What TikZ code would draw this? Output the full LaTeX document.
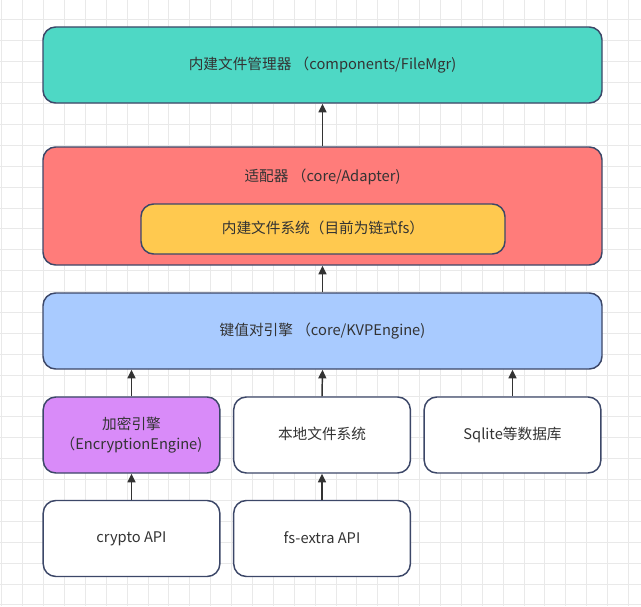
\documentclass[tikz,border=0pt]{standalone}
\usepackage{fontspec}
\setmainfont{Noto Sans CJK SC}
\usepackage{tikz}
\usetikzlibrary{arrows.meta}

\definecolor{edgeblue}{HTML}{3C4768}
\definecolor{txtgray}{HTML}{333333}
\definecolor{gridgray}{HTML}{E9E9E9}
\definecolor{mgrteal}{HTML}{4ED8C5}
\definecolor{adaptred}{HTML}{FF7C7A}
\definecolor{fsyellow}{HTML}{FFC94F}
\definecolor{kvpblue}{HTML}{A9CBFF}
\definecolor{cryptpurple}{HTML}{D98BF9}

\tikzset{
	box/.style={draw=edgeblue, line width=1.1pt, rounded corners=9.5pt, text=txtgray,
		font=\fontsize{11}{14.5}\selectfont, align=center, inner sep=0pt,
		execute at begin node={\rule[-2pt]{0pt}{9.4pt}}},
	wide/.style={box, minimum width=419.25pt, minimum height=57pt},
	small/.style={box, fill=white, minimum width=132.5pt, minimum height=57pt},
	arr/.style={draw=txtgray, line width=1.1pt, -{Triangle[length=6.5pt,width=6pt]}},
	gridline/.style={draw=gridgray, line width=0.75pt}
}

\begin{document}
\begin{tikzpicture}[x=0.75pt,y=-0.75pt]
	\useasboundingbox (0,0) rectangle (641,606);
	\fill[white] (0,0) rectangle (641,606);
	% background grid
	\foreach \i in {0,...,30}
		\draw[gridline] (1.8+\i*20.89,0) -- (1.8+\i*20.89,606);
	\foreach \j in {1,...,29}
		\draw[gridline] (0,-0.9+\j*20.89) -- (641,-0.9+\j*20.89);

	% layers
	\node[wide, fill=mgrteal] (filemgr) at (322.5,65) {内建文件管理器 （components/FileMgr)};
	\node[wide, fill=adaptred, minimum height=88.5pt] (adapter) at (322.5,206) {};
	\node[box, draw=none] (adapterlbl) at (322.5,177) {适配器 （core/Adapter)};
	\node[box, fill=fsyellow, minimum width=273pt, minimum height=37.5pt] (builtinfs) at (323,229) {内建文件系统（目前为链式fs）};
	\node[wide, fill=kvpblue] (kvp) at (322.5,331) {键值对引擎 （core/KVPEngine)};

	\node[small, fill=cryptpurple] (encrypt) at (131.5,435) {加密引擎\\（EncryptionEngine)};
	\node[small] (localfs) at (322,435) {本地文件系统};
	\node[small] (sqlite) at (512.5,435) {Sqlite等数据库};

	\node[small] (cryptoapi) at (131.5,538.5) {crypto API};
	\node[small] (fsextra) at (322,538.5) {fs-extra API};

	% connectors
	\draw[arr] (adapter.north -| filemgr.south) -- (filemgr.south);
	\draw[arr] (kvp.north) -- (adapter.south);
	\draw[arr] (localfs.north) -- (kvp.south);
	\draw[arr] (encrypt.north) -- (encrypt.north |- kvp.south);
	\draw[arr] (sqlite.north) -- (sqlite.north |- kvp.south);
	\draw[arr] (cryptoapi.north) -- (encrypt.south);
	\draw[arr] (fsextra.north) -- (localfs.south);
\end{tikzpicture}
\end{document}
